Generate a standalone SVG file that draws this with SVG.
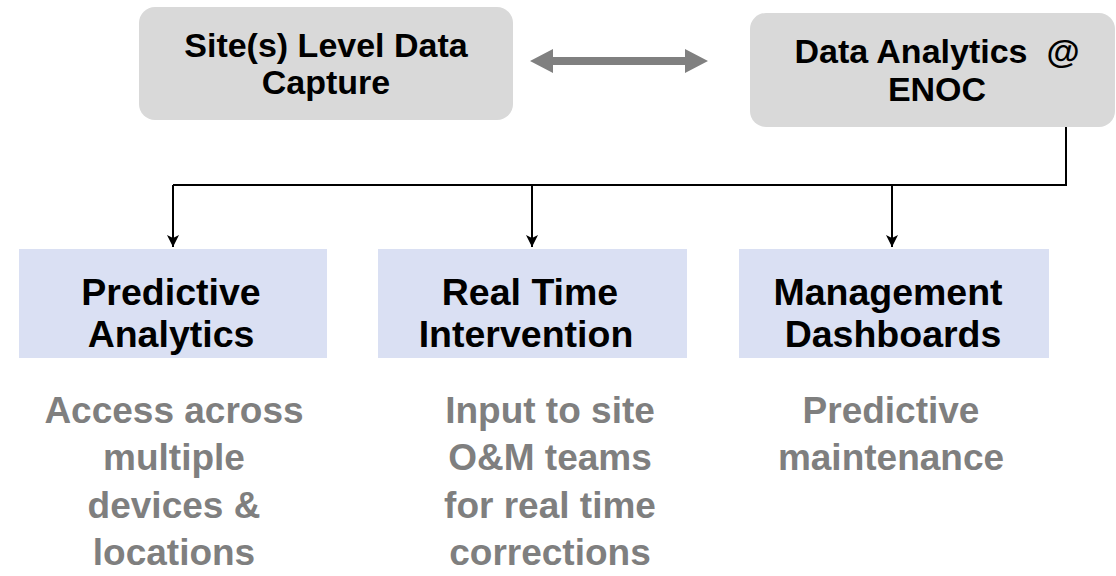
<svg xmlns="http://www.w3.org/2000/svg" width="1116" height="576" viewBox="0 0 1116 576">
<style>
.top{fill:#d9d9d9}
.mid{fill:#dae0f3}
.t{font-family:"Liberation Sans",Arial,sans-serif;font-weight:bold;text-anchor:middle;fill:#000}
.ts{font-size:34px}
.tm{font-size:37.5px}
.g{font-family:"Liberation Sans",Arial,sans-serif;font-weight:bold;text-anchor:middle;fill:#7f7f7f;font-size:37px}
.c{fill:none;stroke:#000;stroke-width:2}
</style>
<defs>
<marker id="ah" markerWidth="14" markerHeight="14" refX="12" refY="7" orient="auto" markerUnits="userSpaceOnUse">
<path d="M0,1 L12,7 L0,13 L3,7 Z" fill="#000"/>
</marker>
</defs>
<g id="site-capture">
<rect class="top" x="139" y="7" width="374" height="113" rx="16"/>
<text class="t ts" x="326" y="57">Site(s) Level Data</text>
<text class="t ts" x="326" y="94">Capture</text>
</g>
<g id="data-analytics">
<rect class="top" x="750" y="13" width="365" height="114" rx="16"/>
<text class="t ts" x="937" y="63" xml:space="preserve">Data Analytics  @</text>
<text class="t ts" x="937" y="101">ENOC</text>
</g>
<g id="predictive-analytics">
<rect class="mid" x="19" y="249" width="308" height="109"/>
<text class="t tm" x="171" y="305">Predictive</text>
<text class="t tm" x="171" y="347">Analytics</text>
</g>
<g id="real-time">
<rect class="mid" x="378" y="249" width="309" height="109"/>
<text class="t tm" x="530" y="305">Real Time</text>
<text class="t tm" x="526" y="347">Intervention</text>
</g>
<g id="dashboards">
<rect class="mid" x="739" y="249" width="310" height="109"/>
<text class="t tm" x="888" y="305">Management</text>
<text class="t tm" x="893" y="347">Dashboards</text>
</g>
<g id="desc-a">
<text class="g" x="174" y="423">Access across</text>
<text class="g" x="174" y="470">multiple</text>
<text class="g" x="174" y="518">devices &amp;</text>
<text class="g" x="174" y="565">locations</text>
</g>
<g id="desc-b">
<text class="g" x="550" y="423">Input to site</text>
<text class="g" x="550" y="470">O&amp;M teams</text>
<text class="g" x="550" y="518">for real time</text>
<text class="g" x="550" y="565">corrections</text>
</g>
<g id="desc-c">
<text class="g" x="891" y="423">Predictive</text>
<text class="g" x="891" y="470">maintenance</text>
</g>
<g id="connectors">
<path d="M530,61 L553,49 L553,57 L685,57 L685,49 L708,61 L685,73 L685,65 L553,65 L553,73 Z" fill="#808080"/>
<path class="c" d="M1066,127 L1066,185 L173,185"/>
<path class="c" d="M173,185 L173,247" marker-end="url(#ah)"/>
<path class="c" d="M532,185 L532,247" marker-end="url(#ah)"/>
<path class="c" d="M892,185 L892,247" marker-end="url(#ah)"/>
</g>
</svg>
